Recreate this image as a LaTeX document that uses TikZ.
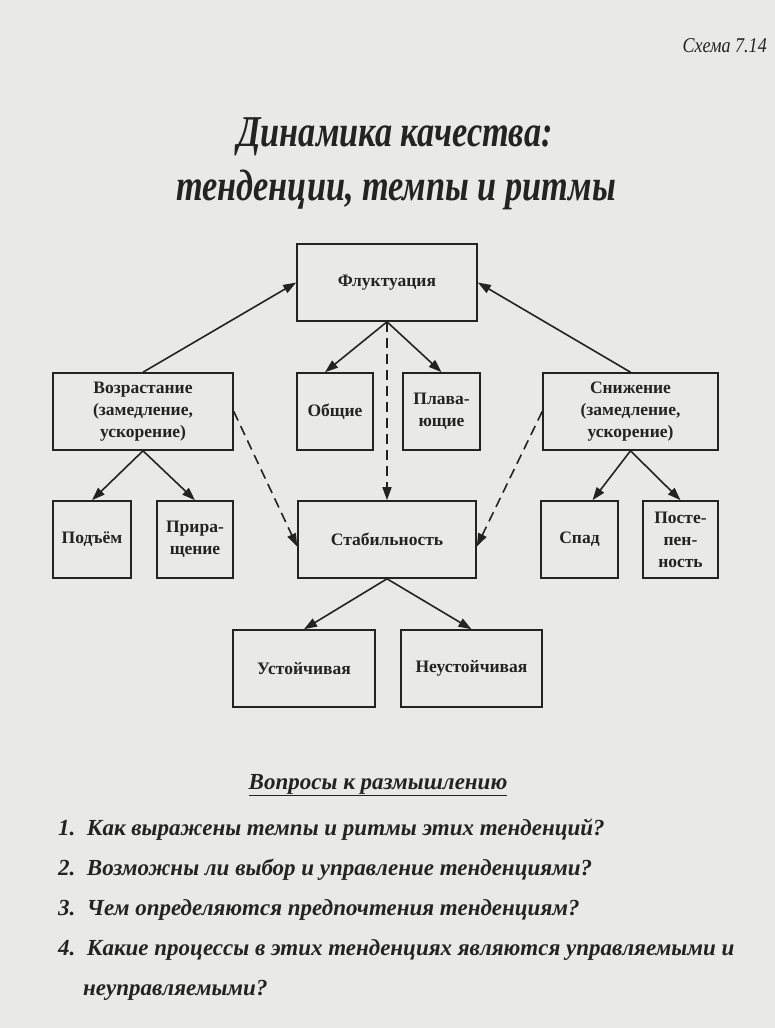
\documentclass[tikz,border=0pt]{standalone}
\usepackage{fontspec}
\usepackage{graphicx}
\setmainfont{Liberation Serif}
\usetikzlibrary{arrows.meta,calc}
\definecolor{paper}{RGB}{233,233,231}
\definecolor{ink}{RGB}{35,35,35}
\begin{document}
\begin{tikzpicture}[x=1pt,y=-1pt,
  box/.style={draw=ink, line width=1.6pt, inner sep=0pt, align=center,
    font=\fontsize{17.5}{22}\selectfont\bfseries, text=ink, minimum height=77pt},
  arr/.style={-{Triangle[length=13pt,width=9pt]}, line width=1.6pt, draw=ink},
  darr/.style={arr, dash pattern=on 10pt off 6pt},
  quest/.style={anchor=west, inner sep=0pt, text=ink,
    font=\fontsize{23}{26}\selectfont\bfseries\itshape},
]
\fill[paper] (0,0) rectangle (775,1028);
\useasboundingbox (0,0) rectangle (775,1028);

% headings
\node[anchor=east, inner sep=0pt, text=ink, font=\fontsize{21}{24}\selectfont\itshape] (schema) at (767,46) {\scalebox{0.86}[1]{Схема 7.14}};
\node[inner sep=0pt, text=ink, font=\fontsize{44}{48}\selectfont\bfseries\itshape] (t1) at (395,137) {\scalebox{0.78}[1]{Динамика качества:}};
\node[inner sep=0pt, text=ink, font=\fontsize{44}{48}\selectfont\bfseries\itshape] (t2) at (396,190) {\scalebox{0.78}[1]{тенденции, темпы и ритмы}};

% boxes
\node[box, minimum width=180pt] (fluk) at (387,282.5) {Флуктуация};
\node[box, minimum width=180pt] (vozr) at (143,411.5) {Возрастание\\(замедление,\\ускорение)};
\node[box, minimum width=76pt] (obsh) at (335,411.5) {Общие};
\node[box, minimum width=77pt] (plav) at (441.5,411.5) {Плава-\\ющие};
\node[box, minimum width=175pt] (sniz) at (630.5,411.5) {Снижение\\(замедление,\\ускорение)};
\node[box, minimum width=78pt] (podm) at (92,539.5) {Подъём};
\node[box, minimum width=76pt] (prir) at (195,539.5) {Прира-\\щение};
\node[box, minimum width=178pt] (stab) at (387,539.5) {Стабильность};
\node[box, minimum width=77pt] (spad) at (579.5,539.5) {Спад};
\node[box, minimum width=75pt] (post) at (680.5,539.5) {Посте-\\пен-\\ность};
\node[box, minimum width=142pt] (ust) at (304,668.5) {Устойчивая};
\node[box, minimum width=141pt] (neust) at (471.5,668.5) {Неустойчивая};

% connectors
\draw[arr] (vozr.north) -- (fluk.west);
\draw[arr] (sniz.north) -- (fluk.east);
\draw[arr] (fluk.south) -- ([xshift=-10pt]obsh.north);
\draw[arr] (fluk.south) -- (plav.north);
\draw[darr] (fluk.south) -- (stab.north);
\draw[darr] (vozr.east) -- ([yshift=-7pt]stab.west);
\draw[darr] (sniz.west) -- ([yshift=-7pt]stab.east);
\draw[arr] (vozr.south) -- (podm.north);
\draw[arr] (vozr.south) -- (prir.north);
\draw[arr] (sniz.south) -- ([xshift=13pt]spad.north);
\draw[arr] (sniz.south) -- (post.north);
\draw[arr] (stab.south) -- (ust.north);
\draw[arr] (stab.south) -- (neust.north);

% questions
\node[inner sep=0pt, text=ink, font=\fontsize{23}{26}\selectfont\bfseries\itshape] (vopr) at (378,785) {\underline{Вопросы к размышлению}};
\node[quest] (q1) at (58,830) {1.\ \ Как выражены темпы и ритмы этих тенденций?};
\node[quest] (q2) at (58,870) {2.\ \ Возможны ли выбор и управление тенденциями?};
\node[quest] (q3) at (58,910) {3.\ \ Чем определяются предпочтения тенденциям?};
\node[quest] (q4) at (58,950) {4.\ \ Какие процессы в этих тенденциях являются управляемыми и};
\node[quest] (q5) at (83,990) {неуправляемыми?};
\end{tikzpicture}
\end{document}
